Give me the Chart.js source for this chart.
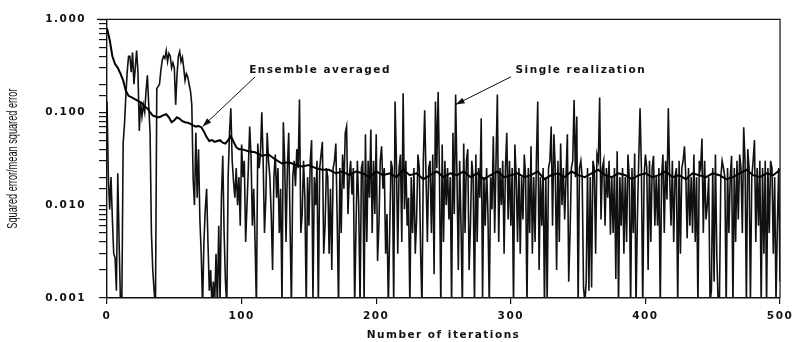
<!DOCTYPE html>
<html><head><meta charset="utf-8">
<script src="https://cdn.jsdelivr.net/npm/chart.js@4"></script>
<style>html,body{margin:0;padding:0;background:#fff;}#wrap{width:797px;height:342px;position:relative;background:#fff;}</style>
</head><body><div id="wrap"><canvas id="c" width="797" height="342"></canvas></div>
<script>
// ---- data ----
const xTicks = [0, 100, 200, 300, 400, 500];
const yTickValues = [1, 0.1, 0.01, 0.001];
const yTickLabels = ['1.000', '0.100', '0.010', '0.001'];
const xTitle = 'Number of iterations';
const yTitle = 'Squared error/mean squared error';

// single realization, one value per iteration 0..500
const singleRealization = [
0.13,0.02,0.009,0.02,0.007,0.003,0.0027,0.0012,0.022,0.004,
0.0009,0.0008,0.046,0.075,0.15,0.27,0.4,0.4,0.27,0.44,
0.2,0.3,0.46,0.27,0.063,0.13,0.09,0.12,0.1,0.17,
0.25,0.12,0.06,0.005,0.002,0.0012,0.0008,0.18,0.19,0.2,
0.28,0.36,0.4,0.38,0.46,0.35,0.43,0.4,0.3,0.34,
0.3,0.12,0.25,0.4,0.45,0.35,0.39,0.3,0.22,0.26,
0.24,0.2,0.17,0.12,0.019,0.01,0.06,0.012,0.04,0.007,
0.003,0.0008,0.004,0.009,0.015,0.004,0.0012,0.002,0.0008,0.0015,
0.0009,0.003,0.0008,0.006,0.0009,0.012,0.034,0.005,0.0015,0.0008,
0.02,0.06,0.11,0.03,0.018,0.012,0.025,0.01,0.02,0.006,
0.045,0.02,0.03,0.004,0.01,0.025,0.07,0.034,0.006,0.015,
0.004,0.0008,0.046,0.025,0.035,0.1,0.03,0.005,0.012,0.06,
0.03,0.02,0.008,0.002,0.02,0.035,0.012,0.025,0.005,0.015,
0.0008,0.078,0.03,0.004,0.025,0.06,0.006,0.0008,0.02,0.03,
0.016,0.04,0.025,0.137,0.005,0.008,0.03,0.012,0.0008,0.02,
0.006,0.03,0.05,0.0009,0.02,0.01,0.03,0.0008,0.025,0.035,
0.048,0.003,0.006,0.025,0.02,0.003,0.015,0.002,0.025,0.03,
0.046,0.007,0.0008,0.025,0.005,0.035,0.015,0.06,0.07,0.008,
0.02,0.03,0.013,0.025,0.0008,0.006,0.03,0.01,0.0008,0.025,
0.03,0.0009,0.058,0.004,0.03,0.012,0.065,0.005,0.03,0.008,
0.058,0.0025,0.006,0.03,0.043,0.015,0.025,0.003,0.008,0.0008,
0.005,0.03,0.025,0.0008,0.13,0.03,0.003,0.025,0.035,0.004,
0.16,0.009,0.03,0.006,0.012,0.0008,0.02,0.005,0.025,0.003,
0.007,0.035,0.025,0.003,0.0008,0.03,0.105,0.02,0.004,0.025,
0.03,0.005,0.035,0.0018,0.13,0.025,0.165,0.02,0.0008,0.045,
0.004,0.03,0.01,0.025,0.007,0.02,0.0008,0.06,0.008,0.155,
0.02,0.002,0.03,0.006,0.0008,0.046,0.005,0.03,0.04,0.002,
0.006,0.03,0.02,0.0008,0.035,0.004,0.025,0.012,0.086,0.001,
0.02,0.006,0.025,0.008,0.0008,0.02,0.009,0.055,0.005,0.03,
0.155,0.004,0.025,0.01,0.03,0.003,0.025,0.06,0.007,0.03,
0.006,0.025,0.0008,0.045,0.02,0.004,0.025,0.003,0.02,0.007,
0.035,0.02,0.0008,0.025,0.005,0.043,0.003,0.02,0.004,0.03,
0.13,0.002,0.02,0.006,0.025,0.0008,0.02,0.0009,0.025,0.03,
0.07,0.006,0.058,0.025,0.002,0.03,0.004,0.046,0.01,0.025,
0.007,0.02,0.058,0.0015,0.005,0.025,0.03,0.135,0.02,0.09,
0.0008,0.025,0.03,0.02,0.0013,0.0009,0.0015,0.025,0.0012,0.02,
0.0013,0.03,0.025,0.003,0.035,0.03,0.144,0.007,0.025,0.03,
0.006,0.025,0.012,0.03,0.0048,0.02,0.005,0.025,0.0016,0.038,
0.0008,0.02,0.006,0.025,0.003,0.02,0.004,0.035,0.02,0.0008,
0.025,0.005,0.036,0.0008,0.007,0.03,0.11,0.025,0.0008,0.02,
0.035,0.025,0.002,0.03,0.004,0.025,0.034,0.006,0.02,0.006,
0.025,0.0008,0.02,0.035,0.005,0.03,0.0115,0.11,0.02,0.006,
0.03,0.004,0.02,0.025,0.0008,0.03,0.003,0.025,0.03,0.043,
0.02,0.0044,0.025,0.006,0.02,0.005,0.035,0.004,0.02,0.0008,
0.03,0.025,0.052,0.005,0.03,0.007,0.01,0.02,0.0009,0.0012,
0.025,0.0015,0.035,0.003,0.0009,0.001,0.02,0.03,0.025,0.02,
0.0008,0.025,0.005,0.02,0.034,0.0008,0.025,0.004,0.03,0.007,
0.035,0.025,0.005,0.069,0.03,0.0008,0.04,0.025,0.0009,0.02,
0.03,0.05,0.004,0.025,0.006,0.03,0.0008,0.025,0.003,0.03,
0.0008,0.025,0.005,0.03,0.025,0.003,0.02,0.0009,0.006,0.025,
0.0015
];

// ensemble averaged curve
const ensembleIterations = [
0,2,4,6,8,10,12,14,16,18,20,22,24,26,28,30,32,34,36,38,40,42,44,46,48,50,
52,54,56,58,60,62,64,66,68,70,72,74,76,78,80,82,84,86,88,90,92,94,96,98,100,
105,110,115,120,125,130,135,140,145,150,155,160,165,170,175,180,185,190,195,200,
205,210,215,220,225,230,235,240,245,250,255,260,265,270,275,280,285,290,295,300,
305,310,315,320,325,330,335,340,345,350,355,360,365,370,375,380,385,390,395,400,
405,410,415,420,425,430,435,440,445,450,455,460,465,470,475,480,485,490,495,500
];
const ensembleAveraged = [
0.8,0.6,0.4,0.33,0.3,0.26,0.22,0.17,0.15,0.145,0.14,0.135,0.13,0.125,0.115,0.11,0.1,0.092,0.09,0.088,0.09,0.093,0.095,0.088,0.078,0.082,
0.088,0.085,0.08,0.078,0.077,0.075,0.072,0.07,0.071,0.069,0.062,0.054,0.049,0.05,0.048,0.049,0.05,0.047,0.046,0.05,0.055,0.048,0.042,0.04,0.04,
0.038,0.037,0.034,0.035,0.031,0.028,0.029,0.027,0.026,0.027,0.025,0.024,0.024,0.022,0.023,0.021,0.023,0.022,0.02,0.023,
0.021,0.022,0.02,0.024,0.021,0.022,0.019,0.021,0.023,0.02,0.022,0.021,0.023,0.02,0.022,0.019,0.021,0.023,0.02,0.021,
0.022,0.02,0.021,0.023,0.019,0.021,0.022,0.02,0.023,0.021,0.02,0.022,0.024,0.021,0.02,0.022,0.021,0.019,0.021,0.022,
0.02,0.021,0.023,0.02,0.021,0.019,0.022,0.021,0.02,0.022,0.021,0.019,0.02,0.022,0.024,0.021,0.02,0.022,0.021,0.024
];

// callouts: label anchor, arrow tail and arrow tip in data coordinates
const callouts = [
  { text: 'Ensemble averaged', at: [105.6, 0.28], tail: [110, 0.24], tip: [71, 0.07] },
  { text: 'Single realization', at: [303.5, 0.28], tail: [300, 0.24], tip: [259, 0.121] }
];

// ---- chart ----
const FONT = '"DejaVu Sans", Verdana, sans-serif';
const INK = '#111';
const TXT = { family: FONT, size: 10.5, weight: 'bold' };

const spacingPlugin = {
  id: 'spacing',
  beforeDraw(chart) {
    const ctx = chart.ctx;
    ctx.save();
    ctx.fillStyle = '#fff';
    ctx.fillRect(0, 0, chart.width, chart.height);
    ctx.restore();
    ctx.letterSpacing = '1.5px';
  }
};

const decorPlugin = {
  id: 'decor',
  afterDraw(chart) {
    const ctx = chart.ctx;
    const a = chart.chartArea;
    const xs = chart.scales.x, ys = chart.scales.y;
    ctx.save();
    // frame top + right
    ctx.strokeStyle = INK;
    ctx.lineWidth = 1.2;
    ctx.beginPath();
    ctx.moveTo(a.left - 10, a.top);
    ctx.lineTo(a.right, a.top);
    ctx.lineTo(a.right, a.bottom);
    ctx.stroke();

    // callouts
    ctx.letterSpacing = '1.5px';
    ctx.font = 'bold 10.5px ' + FONT;
    ctx.fillStyle = INK;
    ctx.textAlign = 'left';
    ctx.textBaseline = 'middle';
    callouts.forEach(c => {
      const tx = xs.getPixelForValue(c.at[0]), ty = ys.getPixelForValue(c.at[1]);
      ctx.fillText(c.text, tx, ty);
      const x0 = xs.getPixelForValue(c.tail[0]), y0 = ys.getPixelForValue(c.tail[1]);
      const x1 = xs.getPixelForValue(c.tip[0]), y1 = ys.getPixelForValue(c.tip[1]);
      ctx.lineWidth = 1;
      ctx.beginPath(); ctx.moveTo(x0, y0); ctx.lineTo(x1, y1); ctx.stroke();
      const ang = Math.atan2(y1 - y0, x1 - x0);
      const L = 9, W = 3;
      ctx.beginPath();
      ctx.moveTo(x1, y1);
      ctx.lineTo(x1 - L * Math.cos(ang) + W * Math.sin(ang), y1 - L * Math.sin(ang) - W * Math.cos(ang));
      ctx.lineTo(x1 - L * Math.cos(ang) - W * Math.sin(ang), y1 - L * Math.sin(ang) + W * Math.cos(ang));
      ctx.closePath(); ctx.fill();
    });

    // condensed y-axis title
    ctx.letterSpacing = '0px';
    ctx.font = '14px "Liberation Sans Narrow", "Liberation Sans", Arial, sans-serif';
    ctx.textAlign = 'center';
    ctx.textBaseline = 'middle';
    ctx.translate(13.5, (a.top + a.bottom) / 2);
    ctx.rotate(-Math.PI / 2);
    const w = ctx.measureText(yTitle).width;
    ctx.scale(140 / w, 1);
    ctx.fillText(yTitle, 0, 0);
    ctx.restore();
  }
};

new Chart(document.getElementById('c'), {
  type: 'line',
  data: {
    datasets: [
      { label: 'Single realization',
        data: singleRealization.map((v, i) => ({ x: i, y: v })),
        borderColor: INK, borderWidth: 1.6, pointRadius: 0, tension: 0, clip: 0, order: 2 },
      { label: 'Ensemble averaged',
        data: ensembleIterations.map((x, i) => ({ x: x, y: ensembleAveraged[i] })),
        borderColor: '#000', borderWidth: 2, pointRadius: 0, tension: 0, clip: 0, order: 1 }
    ]
  },
  options: {
    responsive: false, animation: false, devicePixelRatio: 1,
    layout: { padding: { top: 13, right: 13, left: 0, bottom: 0 } },
    plugins: { legend: { display: false }, tooltip: { enabled: false } },
    scales: {
      x: {
        type: 'linear', min: 0, max: 500,
        afterBuildTicks: s => { s.ticks = xTicks.map(v => ({ value: v })); },
        afterFit: s => { s.height = 44; },
        grid: { drawOnChartArea: false, drawTicks: true, tickLength: 6, color: INK, lineWidth: 1.2 },
        border: { color: INK, width: 1.4 },
        ticks: { font: TXT, color: INK, padding: 6, maxRotation: 0, autoSkip: false },
        title: { display: true, text: xTitle, font: TXT, color: INK, padding: { top: 0, bottom: 0 } }
      },
      y: {
        type: 'logarithmic', min: 0.001, max: 1,
        afterFit: s => { s.width = 107; },
        grid: { drawOnChartArea: false, drawTicks: true, tickLength: 8, color: INK, lineWidth: 1.2 },
        border: { color: INK, width: 1.4 },
        ticks: {
          font: TXT, color: INK, padding: 13, autoSkip: false,
          callback: (v) => {
            const k = yTickValues.findIndex(t => Math.abs(Math.log10(t) - Math.log10(v)) < 1e-6);
            return k >= 0 ? yTickLabels[k] : '';
          }
        }
      }
    }
  },
  plugins: [spacingPlugin, decorPlugin]
});
</script>
</body></html>
